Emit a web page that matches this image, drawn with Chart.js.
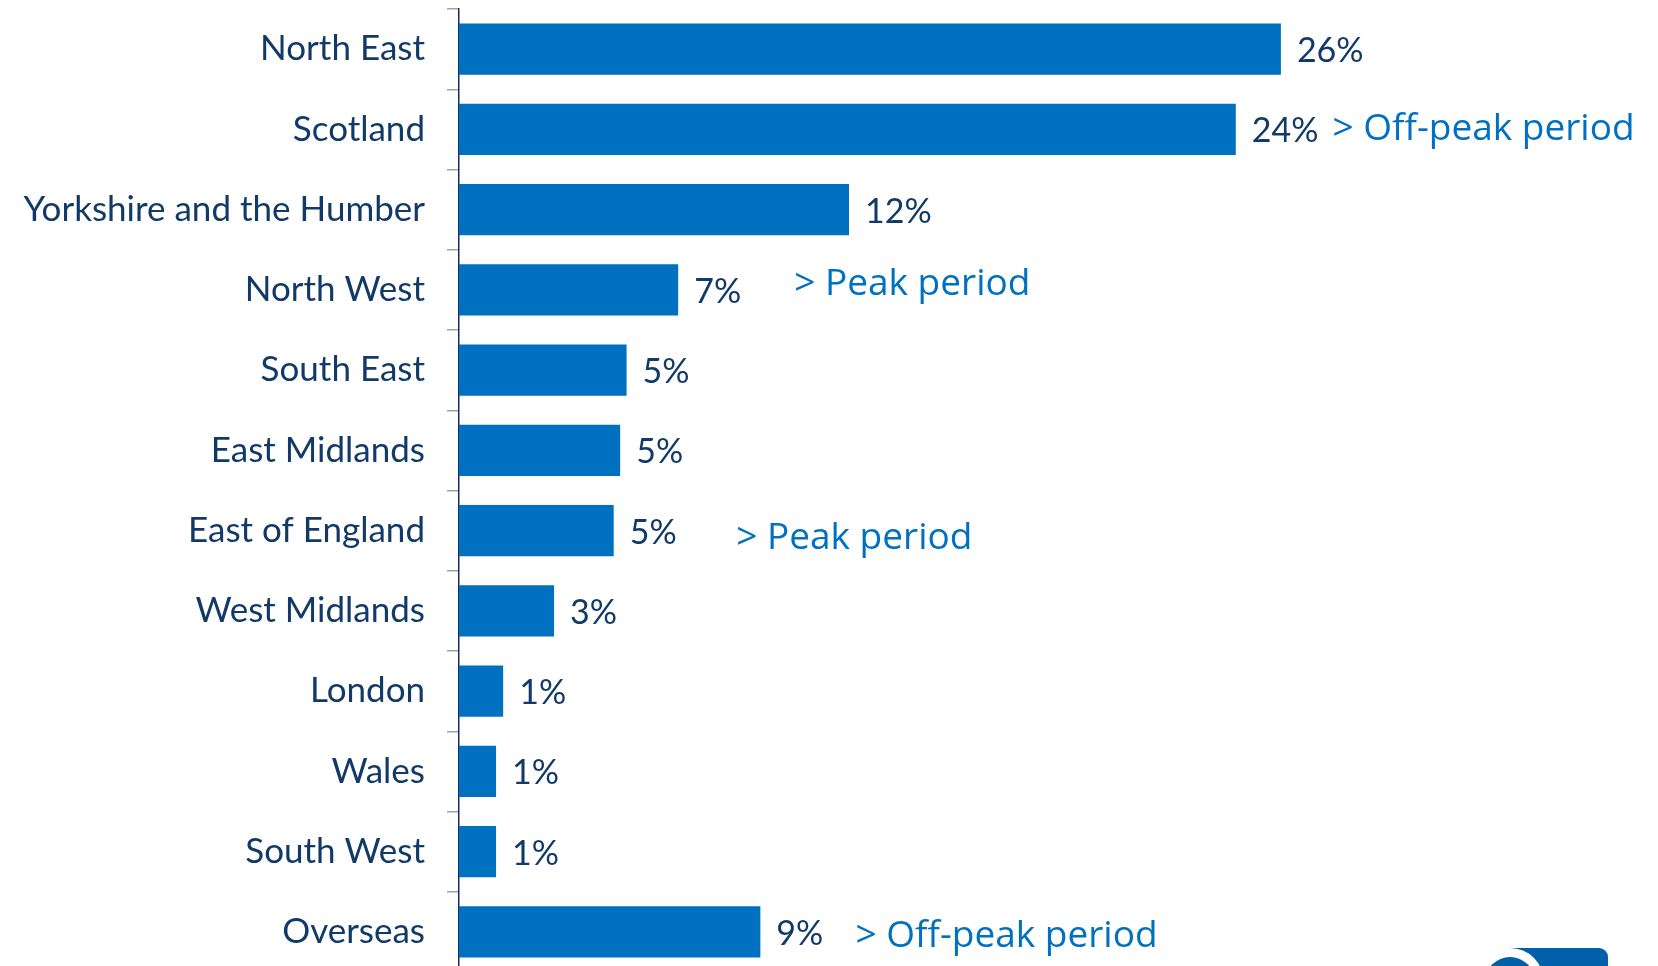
<!DOCTYPE html>
<html>
<head>
<meta charset="utf-8">
<script src="https://cdn.jsdelivr.net/npm/chart.js@4.4.1/dist/chart.umd.min.js"></script>
<style>
  html, body { margin: 0; padding: 0; background: #fff; overflow: hidden; }
  #wrap { position: relative; width: 1658px; height: 972px; }
</style>
</head>
<body>
<div id="wrap"><canvas id="regionChart"></canvas></div>
<script>
// Share of visitors by home region
const regions = ['North East', 'Scotland', 'Yorkshire and the Humber', 'North West', 'South East',
    'East Midlands', 'East of England', 'West Midlands', 'London', 'Wales', 'South West', 'Overseas'];
const shares = [25.5, 24.1, 12.1, 6.8, 5.2, 5.0, 4.8, 2.95, 1.37, 1.15, 1.15, 9.35];

// Period notes placed beside some rows (x in axis units, small vertical nudge in px)
const noteRows = [1, 3, 6, 11];
const noteText = ['> Off-peak period', '> Peak period', '> Peak period', '> Off-peak period'];
const noteX = [27.1, 10.4, 8.6, 12.3];
const noteDy = [0, -5, 8, 5];

const BAR_BLUE = '#0070c0';
const NAVY = '#123a69';

// value labels at the end of each bar
const valueLabels = {
    id: 'valueLabels',
    afterDatasetsDraw(chart) {
        const ctx = chart.ctx;
        const meta = chart.getDatasetMeta(0);
        ctx.save();
        ctx.font = '34px Lato';
        ctx.fillStyle = NAVY;
        ctx.textAlign = 'left';
        ctx.textBaseline = 'middle';
        meta.data.forEach((bar, i) => {
            ctx.fillText(Math.round(shares[i]) + '%', bar.x + 16, bar.y + 2);
        });
        ctx.restore();
    }
};

const periodNotes = {
    id: 'periodNotes',
    afterDatasetsDraw(chart) {
        const ctx = chart.ctx;
        const xs = chart.scales.x, ys = chart.scales.y;
        ctx.save();
        ctx.font = '37px "Open Sans"';
        ctx.fillStyle = BAR_BLUE;
        ctx.textAlign = 'left';
        ctx.textBaseline = 'middle';
        noteRows.forEach((row, i) => {
            ctx.fillText(noteText[i], xs.getPixelForValue(noteX[i]), ys.getPixelForValue(row) + noteDy[i]);
        });
        ctx.restore();
    }
};

// corner of the logo peeking in at the bottom right
const cornerLogo = {
    id: 'cornerLogo',
    afterDraw(chart) {
        const ctx = chart.ctx;
        ctx.save();
        ctx.fillStyle = '#0060a9';
        ctx.beginPath();
        ctx.roundRect(1510, 948, 98, 40, [0, 9, 0, 0]);
        ctx.fill();
        ctx.fillStyle = '#fff';
        ctx.beginPath();
        ctx.arc(1510, 982, 34, 0, Math.PI * 2);
        ctx.fill();
        ctx.fillStyle = '#0060a9';
        ctx.beginPath();
        ctx.arc(1510, 982, 25, 0, Math.PI * 2);
        ctx.fill();
        ctx.restore();
    }
};

new Chart(document.getElementById('regionChart'), {
    type: 'bar',
    data: {
        labels: regions,
        datasets: [{
            data: shares,
            backgroundColor: BAR_BLUE,
            borderWidth: 0,
            barPercentage: 0.64,
            categoryPercentage: 1
        }]
    },
    options: {
        indexAxis: 'y',
        responsive: true,
        maintainAspectRatio: false,
        animation: false,
        layout: { padding: { top: 9, right: 0, bottom: 0, left: 0 } },
        plugins: {
            legend: { display: false },
            tooltip: { enabled: false }
        },
        scales: {
            x: {
                display: false,
                min: 0,
                max: 37.2
            },
            y: {
                afterFit(scale) {
                    scale.width = 459;
                    scale.paddingTop = 0;
                    scale.paddingBottom = 0;
                },
                grid: {
                    display: true,
                    offset: true,
                    drawOnChartArea: false,
                    drawTicks: true,
                    tickLength: 12,
                    color: '#97a2bd',
                    lineWidth: 1.5
                },
                border: { display: true, color: '#1c2a5a', width: 1.5 },
                ticks: {
                    color: NAVY,
                    padding: 22,
                    font: { family: 'Lato', size: 35 }
                }
            }
        }
    },
    plugins: [valueLabels, periodNotes, cornerLogo]
});
</script>
</body>
</html>
